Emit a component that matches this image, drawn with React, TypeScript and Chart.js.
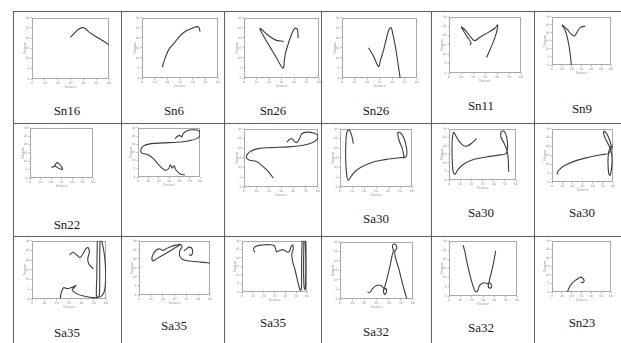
import React, { useEffect, useRef } from "react";
import { Chart, registerables } from "chart.js";
Chart.register(...registerables);

type Pt = number[];

// ---- curve data (x: 0–60, y: 0–30) ----
const sn16: Pt[] = [[30,20.4],[33,22.5],[36,24.3],[39,25.2],[41,25],[44,23.2],[48,21.5],[52,20],[56,18.5],[60,16.7]];
const sn6: Pt[] = [[16,5.4],[17.5,8.5],[19.5,12],[22,15],[24.7,16.9],[28,19.5],[31.3,21.8],[35,23.5],[37.9,24.3],[41,25.2],[43.2,25.6],[45,25.2],[45.8,23.1]];
const sn26a: Pt[] = [[31.8,18.2],[25.0,19.0],[18.2,21.9],[12.8,24.8],[15.5,21.1],[20.9,15.4],[26.3,9.7],[31.2,4.9],[32.3,8.9],[33.1,12.2],[35.8,17.8],[38.6,22.7],[40.7,24.8],[42.6,24.3],[43.4,19.9]];
const sn26b: Pt[] = [[21.2,15.1],[25.2,10.9],[29.2,5.7],[30.8,8.9],[33.2,13.8],[35.8,20.3],[37.7,24.3],[39.3,25.1],[40.4,22.7],[43.0,14.6],[44.6,8.1],[46.5,0]];
const sn11: Pt[] = [[17.3,14.9],[18.4,16.0],[15.1,19.4],[10.3,24.6],[14.5,22.2],[18.1,19.1],[21.5,17.3],[25.7,19.1],[32.7,21.7],[38.2,23.9],[40.5,25.7],[39.6,21.7],[36.8,16.5],[34.0,12.1],[32.1,9.5],[31.3,8.3]];
const sn9: Pt[] = [[19.7,0],[18.0,9.1],[15.9,16.2],[13.6,21.3],[10.2,24.9],[15.3,22.3],[19.3,19.3],[22.7,18.0],[25.4,20.3],[28.8,23.3],[33.9,24.3]];
const sn22: Pt[] = [[20.1,6.5],[23.0,6.9],[24.6,8.4],[26.2,9.2],[28.1,8.2],[30.3,6.5],[31.0,5.1],[28.1,5.5],[25.5,6.5],[23.6,7.3]];
const r2c2: Pt[] = [[35.7,23.4],[38.3,24.8],[40.5,25.4],[42.2,24.4],[43.8,26.4],[47.0,28.0],[53.5,28.8],[59.4,28.0],[60,25.4],[56.8,23.4],[48.6,22.0],[37.3,21.2],[24.3,20.8],[11.4,20.2],[4.9,18.8],[2.6,16.0],[4.2,14.4],[9.7,13.6],[14.6,11.4],[20.1,7.4],[25.3,4.4],[29.2,4.8],[31.5,7.4],[33.1,5.4],[35.0,6.8],[36.6,4.4],[40.5,2.0],[45.4,1.2]];
const r2c3: Pt[] = [[34.6,23.1],[37.4,24.7],[39.3,24.7],[40.9,23.4],[43.1,23.1],[45.0,24.9],[46.9,27.5],[51.0,28.3],[56.5,27.8],[60,26.6],[59.2,24.4],[53.7,22.4],[46.9,21.4],[36.0,20.7],[22.4,20.3],[11.5,19.8],[4.6,18.1],[1.9,15.6],[4.1,13.9],[10.1,13.1],[15.5,10.5],[19.6,8.0],[23.7,4.6]];
const sa30a: Pt[] = [[11.1,22.4],[9.7,26.6],[7.5,29.5],[5.8,28.3],[5.0,24.1],[4.7,17.3],[5.0,10.5],[5.8,5.4],[6.9,3.4],[9.2,5.4],[12.5,8.0],[19.4,10.8],[29.2,13.1],[40.3,14.4],[50.0,15.1],[55.0,15.6],[55.8,18.1],[54.7,22.4],[52.8,25.8],[50.0,28.1],[48.1,27.8],[49.2,24.1],[51.9,19.8],[53.1,16.4],[53.3,14.7]];
const sa30b: Pt[] = [[24.6,24.2],[21.0,21.9],[16.2,19.9],[12.6,20.3],[9.0,22.8],[6.0,26.1],[4.2,27.9],[3.0,24.2],[2.7,17.4],[3.0,9.7],[3.9,4.3],[5.4,3.5],[8.1,6.2],[12.6,9.1],[20.1,11.6],[33.6,13.5],[45.6,14.7],[51.0,15.5],[52.5,19.4],[51.6,25.2],[49.2,28.6],[46.8,28.3],[46.5,25.2],[49.5,21.3],[52.2,16.5],[53.1,11.6],[53.4,4.8]];
const sa30c: Pt[] = [[4.9,4.3],[6.5,6.6],[13.0,9.4],[24.3,12.2],[37.3,14.1],[48.6,15.4],[56.1,16.3],[58.4,19.3],[56.8,23.4],[54.2,26.8],[51.2,28.7],[50.9,26.8],[54.2,22.5],[57.4,18.8],[59.0,14.1],[58.7,8.4],[57.1,3.8],[55.8,4.7],[55.1,10.3],[55.5,15.9],[56.8,18.8],[59.4,20.1],[61,19.3]];
const sa35aLow: Pt[] = [[22.9,0.3],[23.9,3.7],[25.6,5.8],[28.3,5.4],[31.5,5.8],[34.2,6.4],[35.8,7.1],[34.2,5.9],[32.6,4.6],[35.8,2.9],[41.7,1.5],[48.4,0.8],[53.0,0.8],[56.8,1.7],[58.9,4.6],[59.7,10.5],[59.5,17.3],[58.4,24.1],[56.8,29.2],[56.0,31]];
const sa35aLoop: Pt[] = [[53.0,31],[52.7,20.7],[52.5,10.5],[52.2,2.0],[53.3,0.7],[54.6,2.0],[54.9,12.2],[54.9,22.4],[55.2,31]];
const sa35aTop: Pt[] = [[30.4,22.7],[33.1,24.1],[36.3,22.7],[39.0,21.4],[41.7,23.7],[43.9,26.1],[45.7,26.4],[46.5,24.1],[45.2,20.7],[46.0,18.1],[48.4,16.4],[49.8,15.6]];
const sa35bZig: Pt[] = [[12.5,23.3],[14.7,24.9],[17.5,25.5],[20.4,24.7],[22.6,25.5],[26.6,26.7],[31.1,27.6],[35.1,28.0],[28.9,25.5],[21.8,22.7],[14.7,20.0],[11.6,18.9],[11.0,20.9],[12.5,23.3]];
const sa35bTail: Pt[] = [[35.1,28.0],[36.5,26.9],[34.5,24.5],[34.5,21.5],[37.4,19.5],[44.4,18.7],[52.9,18.2],[60,17.6]];
const sa35bHook: Pt[] = [[37.9,24.5],[40.2,25.5],[42.5,26.5],[44.7,25.8],[45.3,23.6],[43.9,21.8],[42.2,22.5]];
const sa35cMain: Pt[] = [[11.8,23.2],[10.6,25.2],[12.4,26.7],[18.0,27.5],[25.8,27.7],[29.8,27.1],[31.1,25.2],[31.7,23.6],[34.2,24.2],[38.2,24.8],[41.0,23.6],[43.5,23.6],[45.1,26.1],[46.6,27.7],[47.3,25.5],[46.0,22.3],[46.6,18.4],[49.1,12.6],[51.6,5.8],[53.2,1.9],[54.4,1.0],[55.0,3.9],[55.0,15.5],[55.3,25.2],[55.6,31]];
const sa35cLoop: Pt[] = [[57.2,31],[56.9,19.4],[56.9,9.7],[57.5,1.9],[58.4,1.5],[58.8,9.7],[58.8,21.3],[58.4,31]];
const sa32a: Pt[] = [[22.6,3.4],[24.8,3.6],[26.7,5.5],[30.0,7.1],[33.3,7.2],[35.2,6.2],[36.3,5.2],[37.6,5.5],[38.2,4.1],[36.8,2.4],[35.7,4.1],[36.8,6.4],[39.0,11.6],[41.2,17.6],[42.8,22.8],[43.9,25.3],[43.1,27.6],[44.2,28.8],[46.1,28.3],[46.6,26.6],[45.0,25.0],[45.5,21.9],[48.3,15.9],[51.0,9.0],[53.2,3.8],[54.8,0.3]];
const sa32b: Pt[] = [[12.4,27.7],[13.8,24.6],[15.9,18.3],[18.2,12.0],[20.6,6.6],[22.6,3.1],[24.1,2.2],[25.6,3.1],[26.5,5.2],[28.5,6.5],[31.5,7.2],[34.4,6.6],[35.9,7.2],[37.6,5.7],[36.8,4.3],[34.7,4.9],[35.3,7.5],[37.4,12.9],[39.4,18.3],[41.2,24.6]];
const sn23: Pt[] = [[15.8,0],[17.2,2.3],[19.9,4.8],[23.6,6.8],[27.0,8.1],[29.3,8.7],[31.3,8.1],[32.7,6.6],[31.3,5.4],[29.7,5.8]];

// ---- panel contents (row by row) ----
const panelLabels = ["Sn16","Sn6","Sn26","Sn26","Sn11","Sn9","Sn22","","","Sa30","Sa30","Sa30","Sa35","Sa35","Sa35","Sa32","Sa32","Sn23"];
const panelCurves: Pt[][][] = [
  [sn16],[sn6],[sn26a],[sn26b],[sn11],[sn9],
  [sn22],[r2c2],[r2c3],[sa30a],[sa30b],[sa30c],
  [sa35aLow,sa35aLoop,sa35aTop],[sa35bZig,sa35bTail,sa35bHook],[sa35cMain,sa35cLoop],[sa32a],[sa32b],[sn23],
];
const xTicks = [0,10,20,30,40,50,60];
const yTicks = [0,5,10,15,20,25,30];
const xTitle = "Distance";
const yTitle = "Distance";

// ---- layout (pixels) ----
const plotBoxes = [
  [32,17,109,79],[142,17,218,78],[244,17,319,78],[342,17,417,78],[449,16,521,73],[552,16,611,65],
  [30,127,93,178],[138,127,200,177],[244,128,318,187],[340,128,412,187],[449,128,516,180],[552,128,613,182],
  [32,240,106,299],[139,240,210,295],[242,240,307,292],[340,241,413,299],[449,240,517,296],[552,240,611,292],
];
const labelCenters = [
  [67,110],[174,110],[273,110],[376,110],[481,105],[582,108],
  [67,224],[0,0],[0,0],[376,218],[481,212],[582,212],
  [67,332],[174,325],[273,322],[376,331],[481,327],[582,322],
];
const colLines = [13,121,224,321,431,534];
const rowLines = [11,123,236];

const PAD_L = 9, PAD_T = 2, PAD_R = 3, PAD_B = 10;

const boxPlugin = {
  id: "frame",
  beforeDatasetsDraw(chart: any) {
    const { ctx, chartArea } = chart;
    const l = Math.round(chartArea.left) + 0.5;
    const t = Math.round(chartArea.top) + 0.5;
    const r = Math.round(chartArea.right) - 0.5;
    const b = Math.round(chartArea.bottom) - 0.5;
    ctx.save();
    ctx.strokeStyle = "#a9a9a9";
    ctx.lineWidth = 1;
    ctx.strokeRect(l, t, r - l, b - t);
    ctx.restore();
  },
};

function Panel({ curves, box }: { curves: Pt[][]; box: number[] }) {
  const ref = useRef<HTMLCanvasElement>(null);
  const [l, t, r, b] = box;
  const w = r - l + PAD_L + PAD_R;
  const h = b - t + PAD_T + PAD_B;
  useEffect(() => {
    const tickFont = { size: 3, family: "DejaVu Sans" };
    const chart = new Chart(ref.current as HTMLCanvasElement, {
      type: "scatter",
      data: {
        datasets: curves.map((c) => ({
          data: c.map(([x, y]) => ({ x, y })),
          showLine: true,
          borderColor: "#3c3c3c",
          borderWidth: 1.1,
          pointRadius: 0,
          tension: 0.35,
          fill: false,
        })),
      },
      options: {
        responsive: false,
        animation: false,
        events: [],
        layout: { padding: { top: PAD_T, right: PAD_R, left: 0, bottom: 0 } },
        plugins: { legend: { display: false }, tooltip: { enabled: false } },
        scales: {
          x: {
            type: "linear", min: xTicks[0], max: xTicks[xTicks.length - 1],
            afterBuildTicks: (s: any) => { s.ticks = xTicks.map((v) => ({ value: v })); },
            ticks: { font: tickFont, color: "#8a8a8a", padding: 1, maxRotation: 0, autoSkip: false },
            grid: { drawOnChartArea: false, tickLength: 1.5, color: "#bdbdbd" },
            border: { display: false },
            title: { display: true, text: xTitle, font: { size: 3 }, color: "#9a9a9a", padding: 0 },
            afterFit: (s: any) => { s.height = PAD_B; },
          },
          y: {
            type: "linear", min: yTicks[0], max: yTicks[yTicks.length - 1],
            afterBuildTicks: (s: any) => { s.ticks = yTicks.map((v) => ({ value: v })); },
            ticks: { font: tickFont, color: "#8a8a8a", padding: 1, autoSkip: false },
            grid: { drawOnChartArea: false, tickLength: 1.5, color: "#bdbdbd" },
            border: { display: false },
            title: { display: true, text: yTitle, font: { size: 3 }, color: "#9a9a9a", padding: 0 },
            afterFit: (s: any) => { s.width = PAD_L; },
          },
        },
      } as any,
      plugins: [boxPlugin],
    });
    return () => chart.destroy();
  }, []);
  return (
    <canvas
      ref={ref}
      width={w}
      height={h}
      style={{ position: "absolute", left: l - PAD_L, top: t - PAD_T, width: w, height: h }}
    />
  );
}

export default function App() {
  return (
    <div style={{ position: "absolute", left: 0, top: 0, width: 621, height: 343, background: "#fff", overflow: "hidden" }}>
      {colLines.map((x, i) => (
        <div key={"c" + i} style={{ position: "absolute", left: x, top: rowLines[0], width: 1, height: 343 - rowLines[0], background: "#5e5e5e" }} />
      ))}
      {rowLines.map((y, i) => (
        <div key={"r" + i} style={{ position: "absolute", left: colLines[0], top: y, width: 621 - colLines[0], height: 1, background: "#5e5e5e" }} />
      ))}
      {plotBoxes.map((box, i) => (
        <Panel key={"p" + i} curves={panelCurves[i]} box={box} />
      ))}
      {panelLabels.map((txt, i) =>
        txt ? (
          <div
            key={"l" + i}
            style={{
              position: "absolute",
              left: labelCenters[i][0] - 40,
              top: labelCenters[i][1] - 6.5,
              width: 80,
              textAlign: "center",
              fontFamily: "'Liberation Serif', 'Times New Roman', serif",
              fontSize: 13,
              lineHeight: "13px",
              color: "#1a1a1a",
              whiteSpace: "nowrap",
            }}
          >
            {txt}
          </div>
        ) : null
      )}
    </div>
  );
}
